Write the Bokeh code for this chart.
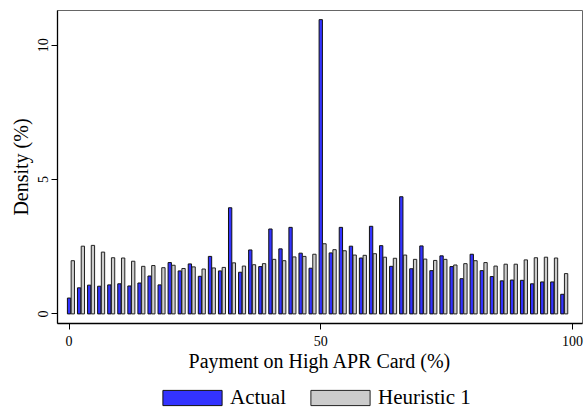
from bokeh.plotting import figure
from bokeh.layouts import column
from bokeh.models import Range1d, FixedTicker, Legend, LegendItem, ColumnDataSource
from bokeh.embed import file_html
from bokeh.resources import INLINE

# Payment on high APR card (%) bins
payment = [0, 2, 4, 6, 8, 10, 12, 14, 16, 18, 20, 22, 24, 26, 28, 30, 32, 34, 36, 38,
           40, 42, 44, 46, 48, 50, 52, 54, 56, 58, 60, 62, 64, 66, 68, 70, 72, 74, 76, 78,
           80, 82, 84, 86, 88, 90, 92, 94, 96, 98]

actual = [0.59, 0.97, 1.07, 1.03, 1.08, 1.12, 1.04, 1.15, 1.41, 1.08,
          1.91, 1.60, 1.86, 1.40, 2.14, 1.60, 3.95, 1.55, 2.38, 1.76,
          3.16, 2.42, 3.22, 2.26, 1.70, 10.95, 2.27, 3.22, 2.52, 2.08,
          3.26, 2.54, 1.77, 4.36, 1.68, 2.53, 1.61, 2.16, 1.76, 1.31,
          2.22, 1.61, 1.39, 1.23, 1.26, 1.25, 1.12, 1.19, 1.19, 0.73]

heuristic1 = [1.98, 2.52, 2.55, 2.30, 2.09, 2.08, 1.96, 1.77, 1.80, 1.72,
              1.81, 1.69, 1.75, 1.67, 1.71, 1.73, 1.90, 1.78, 1.83, 1.87,
              2.03, 1.98, 2.12, 2.14, 2.22, 2.61, 2.39, 2.35, 2.19, 2.18,
              2.24, 2.11, 2.07, 2.19, 2.03, 2.04, 1.99, 2.03, 1.82, 1.87,
              1.98, 1.91, 1.78, 1.85, 1.85, 2.01, 2.09, 2.11, 2.08, 1.50]

series_labels = ["Actual", "Heuristic 1"]
x_ticks = [0, 50, 100]
y_ticks = [0, 5, 10]

FONT = "Liberation Serif"
BLUE = "#3333ff"
GRAY = "#cccccc"
OFFSET = 0.74
BAR_W = 0.66

src = ColumnDataSource(dict(
    x_a=payment,
    x_h=[v + OFFSET for v in payment],
    actual=actual,
    heur=heuristic1,
))

p = figure(width=584, height=374, output_backend="svg", toolbar_location=None,
           x_range=Range1d(-2.3, 102.0), y_range=Range1d(-0.357, 11.29),
           min_border_left=57, min_border_right=2, min_border_top=10,
           min_border_bottom=0)

r1 = p.vbar(x="x_a", top="actual", bottom=0, width=BAR_W, source=src,
            fill_color=BLUE, line_color="#111111", line_width=1)
r2 = p.vbar(x="x_h", top="heur", bottom=0, width=BAR_W, source=src,
            fill_color=GRAY, line_color="#222222", line_width=1)

p.xgrid.visible = False
p.ygrid.visible = False
p.outline_line_color = "#666666"
p.outline_line_width = 1
p.background_fill_color = "white"
p.border_fill_color = "white"

for ax in (p.xaxis[0], p.yaxis[0]):
    ax.axis_line_color = "black"
    ax.axis_line_width = 1.3
    ax.major_tick_line_color = "black"
    ax.major_tick_in = 0
    ax.major_tick_out = 6
    ax.minor_tick_line_color = None
    ax.major_label_text_font = FONT
    ax.major_label_text_font_size = "14px"
    ax.major_label_text_color = "black"
    ax.axis_label_text_font = FONT
    ax.axis_label_text_font_size = "20px"
    ax.axis_label_text_font_style = "normal"
    ax.axis_label_text_color = "black"

p.xaxis[0].ticker = FixedTicker(ticks=x_ticks)
p.yaxis[0].ticker = FixedTicker(ticks=y_ticks)
p.xaxis[0].axis_label = "Payment on High APR Card (%)"
p.yaxis[0].axis_label = "Density (%)"
p.xaxis[0].major_label_standoff = 6
p.xaxis[0].axis_label_standoff = 1
p.yaxis[0].major_label_orientation = "vertical"
p.yaxis[0].major_label_standoff = 3
p.yaxis[0].axis_label_standoff = 4

# legend strip below the chart (its frame is aligned with the chart's frame)
lg = figure(width=584, height=36, output_backend="svg", toolbar_location=None,
            x_range=Range1d(0, 1), y_range=Range1d(0, 1),
            x_axis_location=None, y_axis_location=None,
            min_border_left=0, min_border_right=0, min_border_top=0,
            min_border_bottom=0)
lg.outline_line_color = None
lg.xgrid.visible = False
lg.ygrid.visible = False
lg.background_fill_color = "white"
lg.border_fill_color = "white"
lr1 = lg.vbar(x=[-5], top=[-5], bottom=[-6], width=0.1,
              fill_color=BLUE, line_color="#111111", line_width=1)
lr2 = lg.vbar(x=[-5], top=[-5], bottom=[-6], width=0.1,
              fill_color=GRAY, line_color="#222222", line_width=1)
legend = Legend(items=[LegendItem(label=series_labels[0], renderers=[lr1]),
                       LegendItem(label=series_labels[1], renderers=[lr2])],
                orientation="horizontal", location=(98, 0),
                border_line_color=None, background_fill_alpha=0,
                glyph_width=74, glyph_height=19, label_standoff=1,
                spacing=17, padding=2, margin=0,
                label_text_font=FONT, label_text_font_size="21px",
                label_text_color="black")
lg.add_layout(legend, "center")

layout = column(p, lg, spacing=0)
open("out.html", "w").write(file_html(layout, INLINE))
